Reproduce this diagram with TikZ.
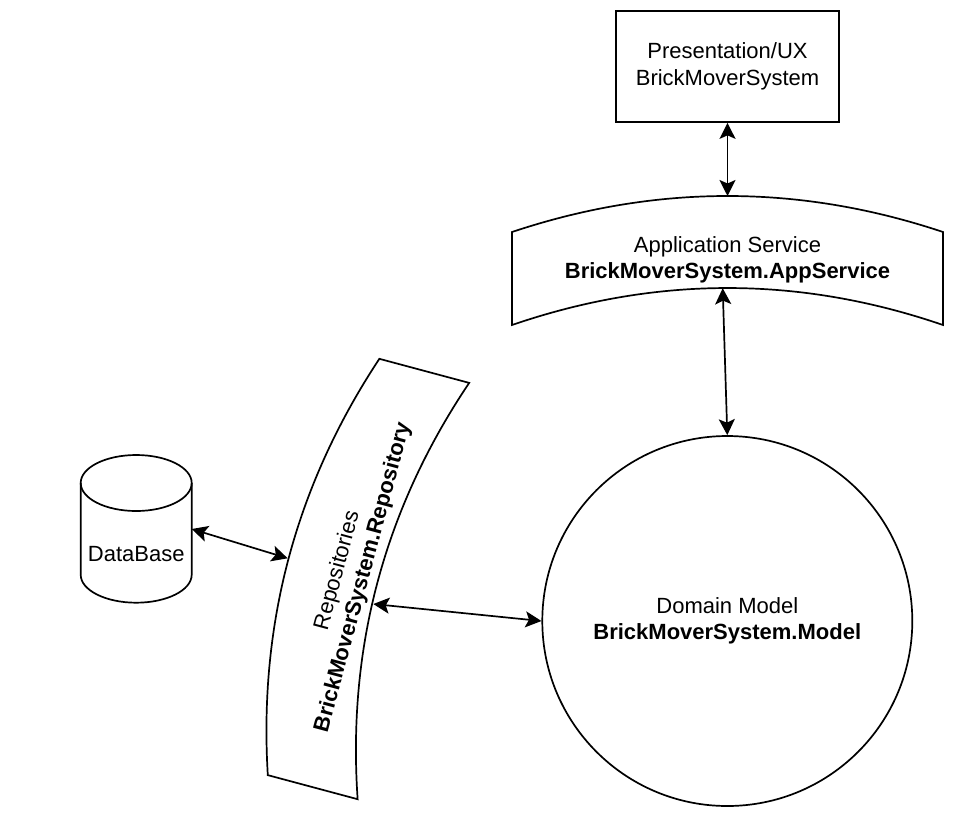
\documentclass[tikz,border=0pt]{standalone}
\usepackage{fontspec}
\setmainfont{Liberation Sans}
\usetikzlibrary{arrows.meta}
\begin{document}
\begin{tikzpicture}[x=1pt,y=-1pt, line width=1.7pt,
  lbl/.style={font=\fontsize{22}{26.5}\selectfont, align=center, inner sep=0pt},
  conn/.style={{Stealth[length=16pt,width=16pt,inset=3.5pt]}-{Stealth[length=16pt,width=16pt,inset=3.5pt]}, line width=1.7pt},
  band/.pic={\draw (-215.5,-46.5) .. controls (-71.8,-94.5) and (71.8,-94.5) .. (215.5,-46.5)
      -- (215.5,46.5) .. controls (71.8,-2.8) and (-71.8,-2.8) .. (-215.5,46.5) -- cycle;}]
\useasboundingbox (0,0) rectangle (974,823);

% Presentation box
\node[draw, lbl, minimum width=223pt, minimum height=111pt] (pres) at (727.5,66.5) {Presentation/UX\\BrickMoverSystem};

% Application service (curved band)
\pic at (727.5,278.5) {band};
\node[lbl] (app) at (727.5,260) {Application Service\\\textbf{BrickMoverSystem.AppService}};
\coordinate (appT) at (727.5,196);
\coordinate (appB) at (722.7,288.2);

% Repository (rotated curved band)
\pic[rotate=75] at (368.5,579) {band};
\node[lbl, rotate=75] (repo) at (350.5,574) {Repositories\\\textbf{BrickMoverSystem.Repository}};
\coordinate (repoL) at (287.7,558.3);
\coordinate (repoR) at (373.3,604);

% Domain model
\node[draw, circle, lbl, minimum size=370pt] (model) at (727.3,621) {Domain Model\\\textbf{BrickMoverSystem.Model}};

% Database cylinder
\draw (136.2,483) ellipse [x radius=55.5pt, y radius=28pt];
\draw (80.7,483) -- (80.7,574.7) arc[start angle=180, end angle=360, x radius=55.5pt, y radius=28pt] -- (191.7,483);
\node[lbl] (db) at (136.2,554) {DataBase};
\coordinate (dbR) at (191.7,529);

% Connectors
\draw[conn] (pres.south) -- (appT);
\draw[conn] (appB) -- (model.north);
\draw[conn] (dbR) -- (repoL);
\draw[conn] (repoR) -- (model.west);
\end{tikzpicture}
\end{document}
